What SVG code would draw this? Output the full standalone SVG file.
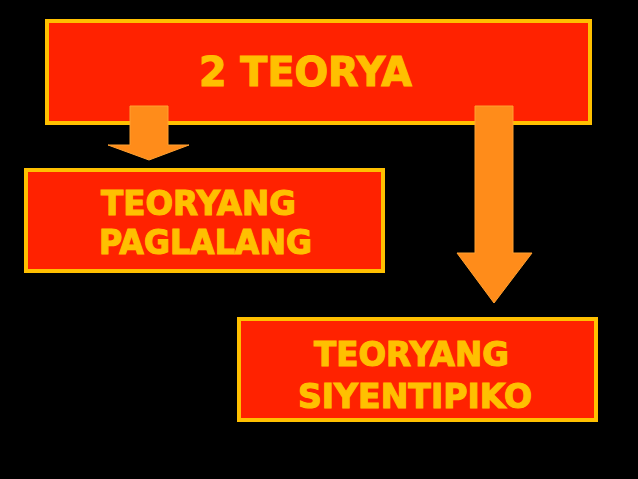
<svg xmlns="http://www.w3.org/2000/svg" width="638" height="479" viewBox="0 0 638 479">
<style>
.box{fill:#FF2200;stroke:#FFC000;stroke-width:4}
.t{font-family:"DejaVu Sans","Liberation Sans",sans-serif;font-weight:bold;fill:#FFC000;stroke:#FFC000;stroke-width:1.2}
.arr{fill:#FF8C1A;stroke:#FFA030;stroke-width:1}
</style>
<rect width="638" height="479" fill="#000"/>
<g id="top">
<rect class="box" x="47" y="21" width="543" height="102"/>
<text class="t" x="199" y="86" font-size="40" textLength="213" lengthAdjust="spacingAndGlyphs">2 TEORYA</text>
</g>
<g id="paglalang">
<rect class="box" x="26" y="170" width="357" height="101"/>
<text class="t" x="101" y="215" font-size="34" textLength="195" lengthAdjust="spacingAndGlyphs">TEORYANG</text>
<text class="t" x="99" y="254" font-size="34" textLength="213" lengthAdjust="spacingAndGlyphs">PAGLALANG</text>
</g>
<g id="siyentipiko">
<rect class="box" x="239" y="319" width="357" height="101"/>
<text class="t" x="314" y="366" font-size="34" textLength="195" lengthAdjust="spacingAndGlyphs">TEORYANG</text>
<text class="t" x="298" y="408" font-size="34" textLength="234" lengthAdjust="spacingAndGlyphs">SIYENTIPIKO</text>
</g>
<g id="connectors">
<polygon class="arr" points="130,106 168,106 168,145 189,145 149,160 108,145 130,145"/>
<polygon class="arr" points="475,106 513,106 513,253 532,253 494,303 457,253 475,253"/>
</g>
</svg>
